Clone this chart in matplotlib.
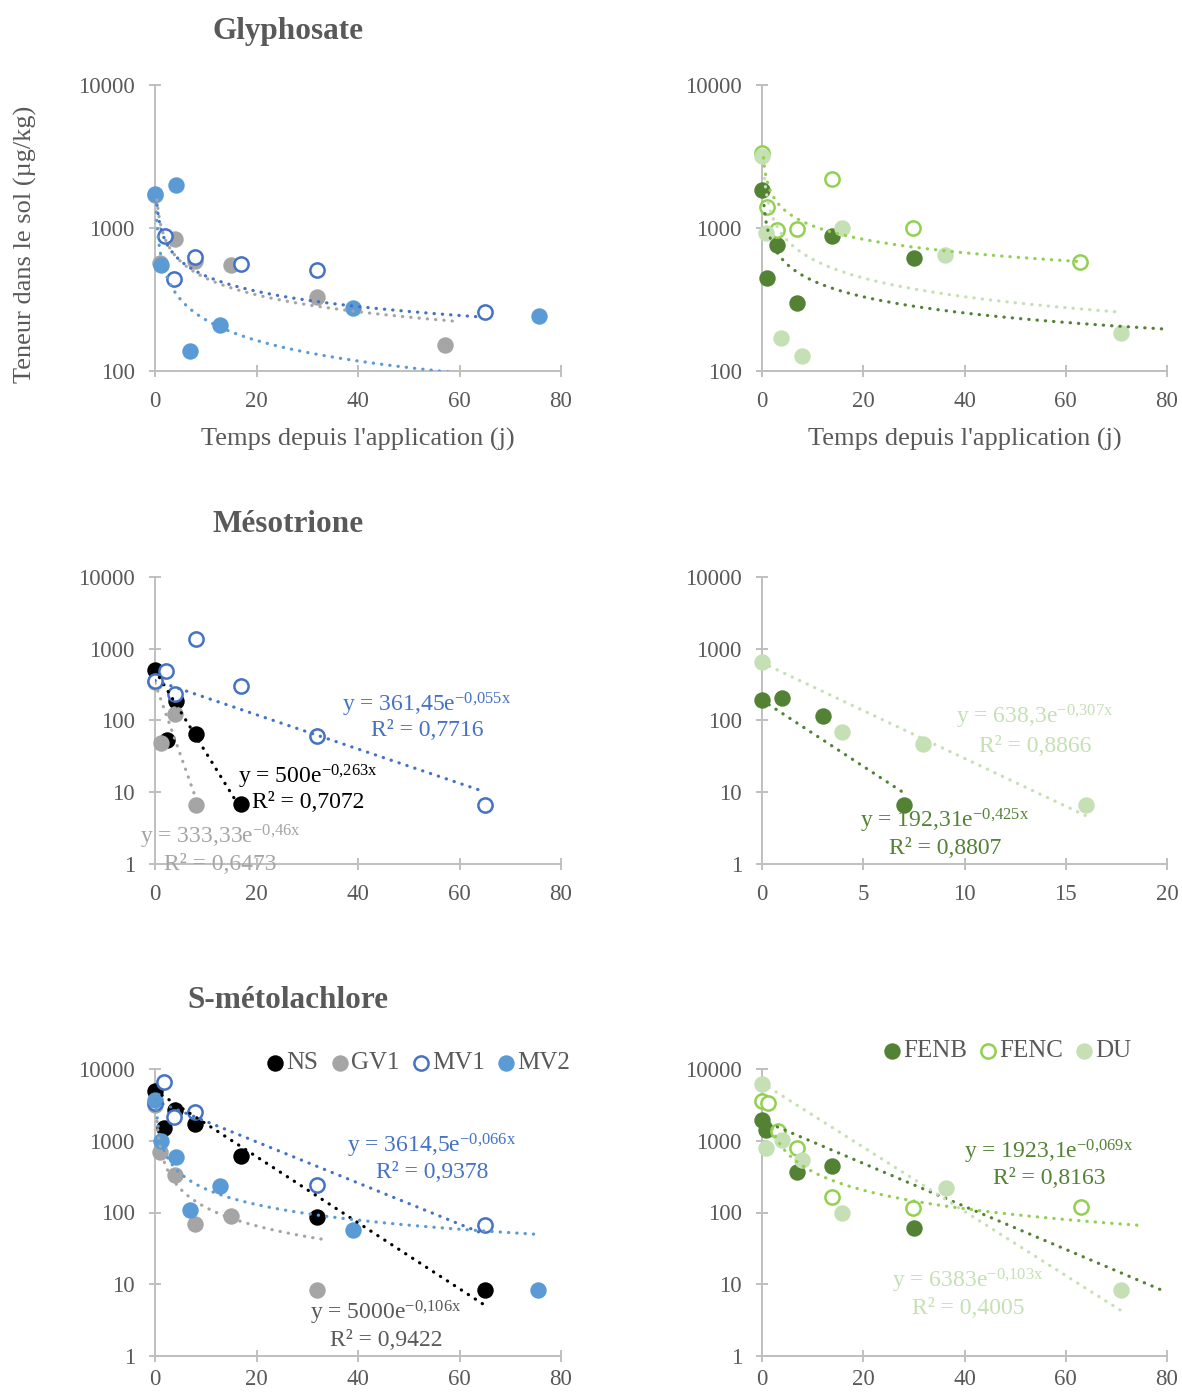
import numpy as np
import matplotlib.pyplot as plt
from matplotlib.ticker import NullLocator

plt.rcParams['font.family'] = ['Liberation Serif', 'DejaVu Serif']
plt.rcParams['mathtext.fontset'] = 'custom'
plt.rcParams['mathtext.rm'] = 'Liberation Serif'
plt.rcParams['mathtext.it'] = 'Liberation Serif:italic'
plt.rcParams['mathtext.bf'] = 'Liberation Serif:bold'

W, H = 1182, 1394
TXT = '#595959'
AXC = '#BFBFBF'

colors = {'NS': '#000000', 'GV1': '#A5A5A5', 'MV1': '#4472C4', 'MV2': '#5B9BD5',
          'FENB': '#548235', 'FENC': '#92D050', 'DU': '#C5E0B4'}
open_series = ['MV1', 'FENC']

# ---- Glyphosate ----
gly_gv1_x = [0, 0.9, 4, 7.8, 14.9, 31.9, 57.1]
gly_gv1_y = [1700, 568, 837, 589, 547, 327, 153]
gly_mv1_x = [1.9, 3.8, 7.8, 16.9, 31.9, 65.1]
gly_mv1_y = [883, 438, 630, 558, 507, 257]
gly_mv2_x = [0, 1.1, 4.2, 6.9, 12.9, 39.1, 75.6]
gly_mv2_y = [1733, 550, 2004, 139, 209, 277, 243]

gly_fenb_x = [0, 0.9, 2.9, 6.9, 13.9, 30]
gly_fenb_y = [1858, 450, 764, 301, 884, 615]
gly_fenc_x = [0, 0.9, 3.0, 6.9, 13.9, 29.8, 62.8]
gly_fenc_y = [3327, 1406, 973, 984, 2208, 1005, 583]
gly_du_x = [0, 0.8, 3.8, 7.9, 15.8, 36.2, 71]
gly_du_y = [3192, 923, 169, 128, 1000, 646, 184]

# ---- Mesotrione ----
mes_ns_x = [0, 2.3, 4.2, 8, 17]
mes_ns_y = [509, 53, 184, 64, 6.8]
mes_gv1_x = [0, 1.1, 4, 8]
mes_gv1_y = [339, 48, 122, 6.65]
mes_mv1_x = [0, 2.1, 4, 8, 17, 32, 65]
mes_mv1_y = [357, 483, 235, 1380, 307, 61, 6.65]

mes_fenb_x = [0, 1, 3, 7]
mes_fenb_y = [194, 207, 114, 6.65]
mes_du_x = [0, 3.95, 7.95, 16]
mes_du_y = [644, 69, 47, 6.65]

# ---- S-metolachlore ----
sm_ns_x = [0, 1.85, 4, 7.8, 16.9, 31.9, 65]
sm_ns_y = [4990, 1503, 2650, 1711, 604, 86, 8.3]
sm_gv1_x = [0, 0.9, 4, 7.8, 15, 31.9]
sm_gv1_y = [3180, 687, 336, 69, 88, 8.3]
sm_mv1_x = [0, 1.85, 3.8, 7.8, 31.9, 65]
sm_mv1_y = [3400, 6520, 2138, 2512, 243, 66]
sm_mv2_x = [0, 1.2, 4.2, 6.9, 12.9, 39, 75.5]
sm_mv2_y = [3653, 979, 592, 107, 231, 57, 8.3]

sm_fenb_x = [0, 0.8, 6.9, 13.9, 30]
sm_fenb_y = [1923, 1422, 361, 448, 60]
sm_fenc_x = [0, 1.1, 3.1, 6.9, 13.9, 29.8, 63]
sm_fenc_y = [3540, 3355, 1350, 791, 162, 115, 119]
sm_du_x = [0, 0.8, 3.9, 7.9, 15.8, 36.3, 71]
sm_du_y = [6240, 791, 1032, 532, 100, 223, 8.3]

# trendlines: (series, kind, a, b, xmin, xmax)
gly_left_trends = [('GV1', 'pow', 1099, -0.391, 0.4, 59), ('MV1', 'pow', 1046, -0.355, 0.4, 64),
                   ('MV2', 'pow', 685, -0.478, 0.2, 65)]
gly_right_trends = [('FENB', 'pow', 1019, -0.376, 0.4, 80), ('FENC', 'pow', 2129, -0.313, 0.3, 63),
                    ('DU', 'pow', 1646, -0.435, 0.5, 70)]
mes_left_trends = [('NS', 'exp', 500, -0.263, 0, 17), ('GV1', 'exp', 333.33, -0.46, 0, 8),
                   ('MV1', 'exp', 361.45, -0.055, 0, 65)]
mes_right_trends = [('FENB', 'exp', 192.31, -0.425, 0, 7), ('DU', 'exp', 638.3, -0.307, 0, 16)]
sm_left_trends = [('NS', 'exp', 5000, -0.106, 0, 65), ('GV1', 'pow', 848, -0.857, 0.4, 34),
                  ('MV1', 'exp', 3614.5, -0.066, 0, 65), ('MV2', 'pow', 1115, -0.72, 0.2, 75)]
sm_right_trends = [('FENB', 'exp', 1923.1, -0.069, 0, 80), ('FENC', 'pow', 2666, -0.857, 2, 75),
                   ('DU', 'exp', 6383, -0.103, 0, 71)]

fig = plt.figure(figsize=(W / 100, H / 100), dpi=100)


def make_ax(x0, x1, ytop, ybot):
    return fig.add_axes([x0 / W, 1 - ybot / H, (x1 - x0) / W, (ybot - ytop) / H])


def style_ax(ax, xticks, ymin, xpad=10):
    ax.set_yscale('log')
    ax.set_xlim(0, xticks[-1])
    ax.set_ylim(ymin, 10000)
    ax.set_xticks(xticks)
    ax.set_xticklabels([str(t) for t in xticks])
    yt = [10 ** k for k in range(int(round(np.log10(ymin))), 5)]
    ax.set_yticks(yt)
    ax.set_yticklabels([str(v) for v in yt])
    ax.yaxis.set_minor_locator(NullLocator())
    for s in ['top', 'right']:
        ax.spines[s].set_visible(False)
    for s in ['left', 'bottom']:
        ax.spines[s].set_color(AXC)
        ax.spines[s].set_linewidth(1.4)
    ax.tick_params(direction='inout', length=9, width=1.4, color=AXC,
                   labelcolor=TXT, labelsize=16.5, pad=10)
    ax.tick_params(axis='x', pad=xpad)
    ax.patch.set_alpha(0)


def plot_series(ax, name, xs, ys):
    c = colors[name]
    if name in open_series:
        return ax.scatter(xs, ys, s=105, facecolors='white', edgecolors=c, linewidths=1.8,
                          zorder=3, clip_on=False, label=name)
    return ax.scatter(xs, ys, s=140, color=c, linewidths=0, zorder=3, clip_on=False, label=name)


def plot_trends(ax, trends):
    for name, kind, a, b, xmin, xmax in trends:
        xx = np.linspace(xmin, xmax, 400)
        if kind == 'exp':
            yy = a * np.exp(b * xx)
        else:
            yy = a * xx ** b
        ax.plot(xx, yy, color=colors[name], lw=2.3, linestyle=(0, (0.1, 2.5)),
                dash_capstyle='round', zorder=4)


def ftext(px, py, s, **kw):
    fig.text(px / W, 1 - py / H, s, ha='center', va='center', **kw)


def eq_label(px, py1, py2, a_txt, b_txt, r2, color):
    sup = b_txt.replace(',', '{,}')
    ftext(px, py1, 'y = ' + a_txt + 'e$^{\\mathregular{' + sup + 'x}}$', color=color, fontsize=17, zorder=10)
    ftext(px, py2, 'R² = ' + r2, color=color, fontsize=17, zorder=10)


LX0, LX1 = 155, 561
RX0, RX1 = 762, 1167

# Glyphosate
ax = make_ax(LX0, LX1, 85, 371)
style_ax(ax, [0, 20, 40, 60, 80], 100)
plot_series(ax, 'GV1', gly_gv1_x, gly_gv1_y)
plot_series(ax, 'MV1', gly_mv1_x, gly_mv1_y)
plot_series(ax, 'MV2', gly_mv2_x, gly_mv2_y)
plot_trends(ax, gly_left_trends)

ax = make_ax(RX0, RX1, 85, 371)
style_ax(ax, [0, 20, 40, 60, 80], 100)
plot_series(ax, 'FENB', gly_fenb_x, gly_fenb_y)
plot_series(ax, 'FENC', gly_fenc_x, gly_fenc_y)
plot_series(ax, 'DU', gly_du_x, gly_du_y)
plot_trends(ax, gly_right_trends)

# Mesotrione
ax = make_ax(LX0, LX1, 577, 864)
style_ax(ax, [0, 20, 40, 60, 80], 1)
plot_series(ax, 'NS', mes_ns_x, mes_ns_y)
plot_series(ax, 'GV1', mes_gv1_x, mes_gv1_y)
plot_series(ax, 'MV1', mes_mv1_x, mes_mv1_y)
plot_trends(ax, mes_left_trends)

ax = make_ax(RX0, RX1, 577, 864)
style_ax(ax, [0, 5, 10, 15, 20], 1)
plot_series(ax, 'FENB', mes_fenb_x, mes_fenb_y)
plot_series(ax, 'DU', mes_du_x, mes_du_y)
plot_trends(ax, mes_right_trends)

# S-metolachlore (tick labels kept inside the figure edge)
axl = make_ax(LX0, LX1, 1069, 1356)
style_ax(axl, [0, 20, 40, 60, 80], 1, xpad=5)
hl = [plot_series(axl, 'NS', sm_ns_x, sm_ns_y),
      plot_series(axl, 'GV1', sm_gv1_x, sm_gv1_y),
      plot_series(axl, 'MV1', sm_mv1_x, sm_mv1_y),
      plot_series(axl, 'MV2', sm_mv2_x, sm_mv2_y)]
plot_trends(axl, sm_left_trends)

axr = make_ax(RX0, RX1, 1069, 1356)
style_ax(axr, [0, 20, 40, 60, 80], 1, xpad=5)
hr = [plot_series(axr, 'FENB', sm_fenb_x, sm_fenb_y),
      plot_series(axr, 'FENC', sm_fenc_x, sm_fenc_y),
      plot_series(axr, 'DU', sm_du_x, sm_du_y)]
plot_trends(axr, sm_right_trends)

for a_, hs, cx, cy in [(axl, hl, 417, 1063), (axr, hr, 1006, 1051)]:
    leg = a_.legend(handles=hs, labels=[h.get_label() for h in hs], loc='center',
                    bbox_to_anchor=(cx / W, 1 - cy / H), bbox_transform=fig.transFigure,
                    ncol=len(hs), frameon=False, handletextpad=0.0, columnspacing=0.4,
                    handlelength=0.9, borderpad=0, fontsize=18, labelcolor=TXT, scatterpoints=1)

# titles and axis labels
ftext(288, 32, 'Glyphosate', fontsize=22.5, fontweight='bold', color=TXT)
ftext(288, 524, 'Mésotrione', fontsize=22.5, fontweight='bold', color=TXT)
ftext(288, 1000, 'S-métolachlore', fontsize=22.5, fontweight='bold', color=TXT)
ftext(358, 439, "Temps depuis l'application (j)", fontsize=19, color=TXT)
ftext(965, 439, "Temps depuis l'application (j)", fontsize=19, color=TXT)
ftext(25, 244, 'Teneur dans le sol (µg/kg)', fontsize=19, color=TXT, rotation=90)

# trendline equations
eq_label(427, 705, 731, '361,45', '-0,055', '0,7716', colors['MV1'])
eq_label(308, 777, 803, '500', '-0,263', '0,7072', '#000000')
eq_label(220, 837, 865, '333,33', '-0,46', '0,6473', colors['GV1'])
eq_label(1035, 717, 747, '638,3', '-0,307', '0,8866', colors['DU'])
eq_label(945, 821, 849, '192,31', '-0,425', '0,8807', colors['FENB'])
eq_label(432, 1146, 1173, '3614,5', '-0,066', '0,9378', colors['MV1'])
eq_label(386, 1313, 1341, '5000', '-0,106', '0,9422', TXT)
eq_label(1049, 1152, 1179, '1923,1', '-0,069', '0,8163', colors['FENB'])
eq_label(968, 1281, 1309, '6383', '-0,103', '0,4005', colors['DU'])

fig.savefig('out.png', dpi=100)
